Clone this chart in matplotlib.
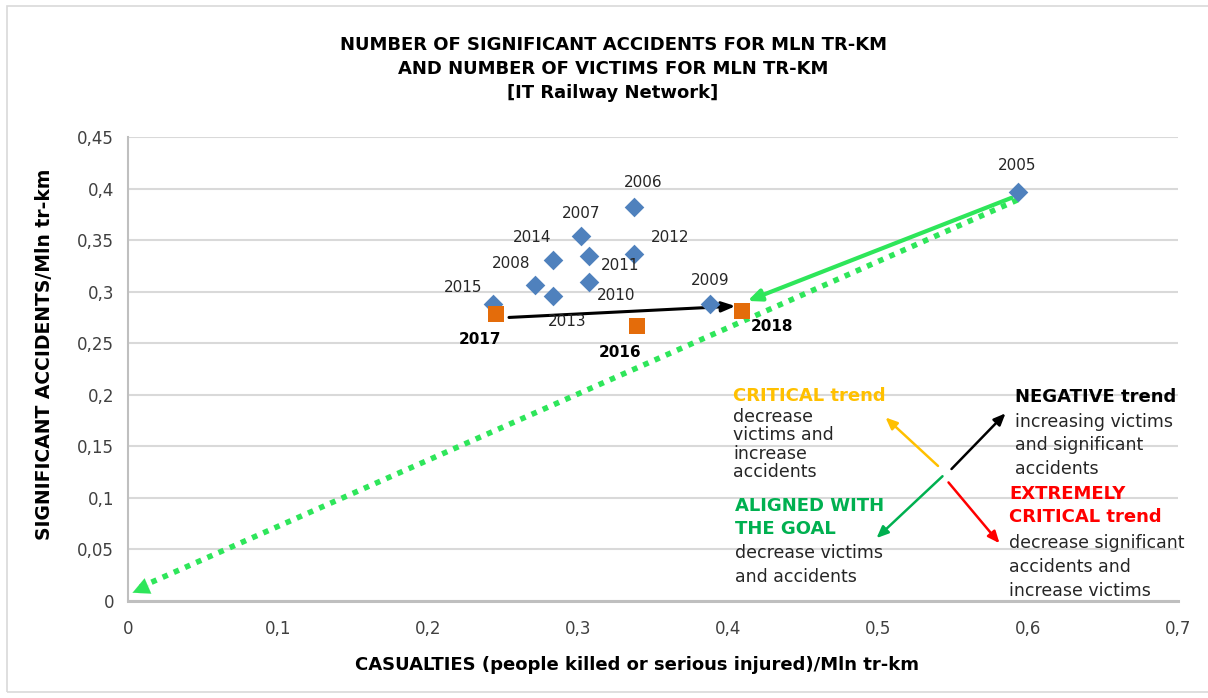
import matplotlib.pyplot as plt
from matplotlib.patches import Rectangle

# years and values (casualties / Mln tr-km, significant accidents / Mln tr-km)
years = ['2005', '2006', '2007', '2008', '2009', '2010', '2011', '2012', '2013', '2014', '2015']
casualties = [0.593, 0.337, 0.302, 0.271, 0.388, 0.307, 0.307, 0.337, 0.283, 0.283, 0.243]
accidents = [0.397, 0.382, 0.354, 0.306, 0.288, 0.309, 0.335, 0.337, 0.296, 0.331, 0.288]

new_years = ['2016', '2017', '2018']
new_casualties = [0.339, 0.245, 0.409]
new_accidents = [0.267, 0.278, 0.281]

# label offsets in pixels (dx, dy) from each marker
label_off = {'2005': (0, 26), '2006': (10, 25), '2007': (0, 22), '2008': (-23, 22),
             '2009': (0, 24), '2010': (28, -13), '2011': (32, -10), '2012': (37, 16),
             '2013': (15, -26), '2014': (-20, 22), '2015': (-29, 17)}
new_label_off = {'2016': (-16, -27), '2017': (-15, -25), '2018': (31, -15)}

ticks_x = [0, 0.1, 0.2, 0.3, 0.4, 0.5, 0.6, 0.7]
ticks_y = [0, 0.05, 0.1, 0.15, 0.2, 0.25, 0.3, 0.35, 0.4, 0.45]

plt.rcParams['font.family'] = ['DejaVu Sans']

W, H = 1208, 698
fig = plt.figure(figsize=(W / 100, H / 100), dpi=100)
ax = fig.add_axes([128 / W, 1 - 601 / H, (1178 - 128) / W, (601 - 137) / H])

# outer chart frame
fig.patches.append(Rectangle((7 / W, 1 - 692 / H), 1.0, 686 / H, transform=fig.transFigure,
                             fill=False, edgecolor='#D9D9D9', linewidth=1.2))

ax.set_xlim(0, 0.7)
ax.set_ylim(0, 0.45)
ax.set_xticks(ticks_x)
ax.set_yticks(ticks_y)
ax.set_xticklabels([('%g' % t).replace('.', ',') for t in ticks_x], fontsize=12, color='#404040')
ax.set_yticklabels([('%g' % t).replace('.', ',') for t in ticks_y], fontsize=12, color='#404040')
ax.tick_params(axis='both', length=0)
ax.tick_params(axis='x', pad=14)
ax.tick_params(axis='y', pad=10)
ax.yaxis.grid(True, color='#D9D9D9', linewidth=1.5)
ax.set_axisbelow(True)
for s in ['top', 'right']:
    ax.spines[s].set_visible(False)
ax.spines['left'].set_color('#BFBFBF')
ax.spines['bottom'].set_color('#BFBFBF')
ax.spines['left'].set_linewidth(1.5)
ax.spines['bottom'].set_linewidth(2.2)

# trend arrows (green dotted and green solid from 2005, black 2017 -> 2018)
ax.plot([casualties[0], 0.006], [accidents[0] - 0.008, 0.012], color='#2EE65A',
        linestyle=(0, (1, 1.2)), linewidth=4, dash_capstyle='butt', zorder=2)
ax.annotate('', xy=(0.003, 0.008), xytext=(0.014, 0.015),
            arrowprops=dict(arrowstyle='-|>,head_length=1.2,head_width=0.6', color='#2EE65A',
                            lw=0.1, shrinkA=0, shrinkB=0), zorder=2)
ax.annotate('', xy=(0.413, 0.291), xytext=(0.589, 0.391),
            arrowprops=dict(arrowstyle='-|>,head_length=0.8,head_width=0.35', color='#2EE65A',
                            lw=3, shrinkA=0, shrinkB=0), zorder=3)
ax.annotate('', xy=(0.405, 0.286), xytext=(0.254, 0.275),
            arrowprops=dict(arrowstyle='-|>,head_length=0.8,head_width=0.3', color='black',
                            lw=2.2, shrinkA=0, shrinkB=0), zorder=3)

ax.scatter(casualties, accidents, marker='D', s=10 ** 2, color='#4F81BD', zorder=4, linewidths=0)
ax.scatter(new_casualties, new_accidents, marker='s', s=11 ** 2, color='#E46C0A', zorder=4, linewidths=0)

for y, cx, cy in zip(years, casualties, accidents):
    ax.annotate(y, (cx, cy), xytext=label_off[y], textcoords='offset pixels',
                ha='center', va='center', fontsize=11, color='#262626', zorder=5)
for y, cx, cy in zip(new_years, new_casualties, new_accidents):
    ax.annotate(y, (cx, cy), xytext=new_label_off[y], textcoords='offset pixels',
                ha='center', va='center', fontsize=11, fontweight='bold', color='black', zorder=5)

# legend of trend directions
trend_arrows = [((0.540, 0.131), (0.505, 0.178), '#FFC000'),
                ((0.549, 0.128), (0.585, 0.182), 'black'),
                ((0.543, 0.121), (0.499, 0.061), '#00B050'),
                ((0.547, 0.115), (0.581, 0.056), '#FF0000')]
for start, end, c in trend_arrows:
    ax.annotate('', xy=end, xytext=start,
                arrowprops=dict(arrowstyle='-|>,head_length=0.7,head_width=0.3', color=c,
                                lw=1.8, shrinkA=0, shrinkB=0))


def px(x, y):
    return (x / W, 1 - y / H)


def put(x, y, s, **kw):
    fig.text(*px(x, y), s, va='center', ha='left', **kw)


BODY = 12.5
HEAD = 13

put(733, 396, 'CRITICAL trend', fontsize=HEAD, fontweight='bold', color='#FFC000')
for i, s in enumerate(['decrease', 'victims and', 'increase', 'accidents']):
    put(733, 417 + i * 18.3, s, fontsize=BODY, color='#262626')

put(1015, 397, 'NEGATIVE trend', fontsize=HEAD, fontweight='bold', color='black')
for i, s in enumerate(['increasing victims', 'and significant', 'accidents']):
    put(1015, 422 + i * 23.5, s, fontsize=BODY, color='#262626')

for i, s in enumerate(['ALIGNED WITH', 'THE GOAL']):
    put(735, 506 + i * 23, s, fontsize=HEAD, fontweight='bold', color='#00B050')
for i, s in enumerate(['decrease victims', 'and accidents']):
    put(735, 553 + i * 24, s, fontsize=BODY, color='#262626')

for i, s in enumerate(['EXTREMELY', 'CRITICAL trend']):
    put(1009, 494 + i * 23, s, fontsize=HEAD, fontweight='bold', color='#FF0000')
for i, s in enumerate(['decrease significant', 'accidents and', 'increase victims']):
    put(1009, 543 + i * 24, s, fontsize=BODY, color='#262626')

# titles and axis labels
title_lines = ['NUMBER OF SIGNIFICANT ACCIDENTS FOR MLN TR-KM',
               'AND NUMBER OF VICTIMS FOR MLN TR-KM',
               '[IT Railway Network]']
for i, s in enumerate(title_lines):
    fig.text(*px(613, 45 + i * 24), s, ha='center', va='center', fontsize=13,
             fontweight='bold', color='black')

fig.text(*px(637, 665), 'CASUALTIES (people killed or serious injured)/Mln tr-km',
         ha='center', va='center', fontsize=13, fontweight='bold', color='black')
fig.text(*px(45, 354), 'SIGNIFICANT ACCIDENTS/Mln tr-km', ha='center', va='center',
         rotation=90, fontsize=13.5, fontweight='bold', color='black')

fig.savefig('out.png', dpi=100)
